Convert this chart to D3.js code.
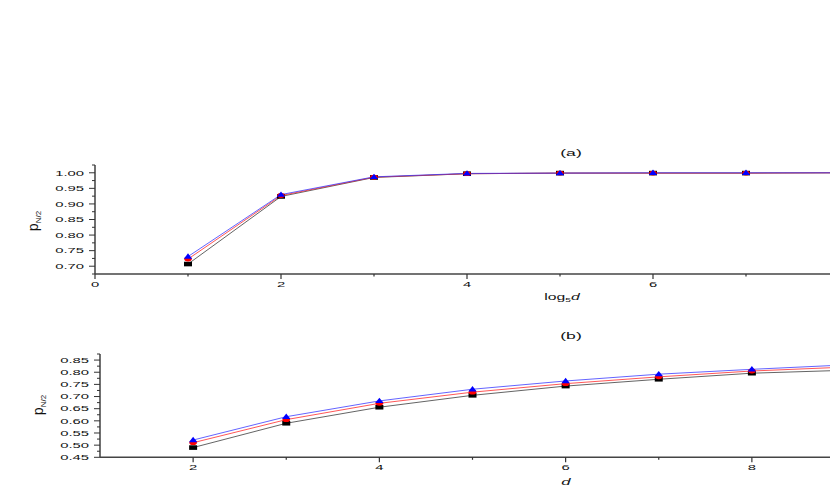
<!DOCTYPE html>
<html><head><meta charset="utf-8">
<script src="https://cdn.jsdelivr.net/npm/d3@7"></script>
<style>html,body{margin:0;padding:0;background:#fff;} svg{display:block;}</style>
</head><body>
<svg id="c" width="830" height="491"></svg>
<script>
// ---- data ----
const xA = [1, 2, 3, 4, 5, 6, 7, 8];            // log5 d
const aBlack = [0.707, 0.924, 0.985, 0.997, 0.999, 0.999, 0.999, 1.000];
const aRed   = [0.723, 0.927, 0.986, 0.997, 0.999, 0.999, 0.999, 1.000];
const aBlue  = [0.731, 0.930, 0.987, 0.998, 0.999, 1.000, 1.000, 1.000];

const xB = [2, 3, 4, 5, 6, 7, 8, 9];            // d
const bBlack = [0.490, 0.590, 0.656, 0.705, 0.743, 0.771, 0.796, 0.808];
const bRed   = [0.510, 0.605, 0.672, 0.718, 0.753, 0.781, 0.805, 0.821];
const bBlue  = [0.521, 0.617, 0.682, 0.730, 0.764, 0.792, 0.812, 0.830];

const aYTicks = [0.70, 0.75, 0.80, 0.85, 0.90, 0.95, 1.00];
const aXTicks = [0, 2, 4, 6];
const bYTicks = [0.45, 0.50, 0.55, 0.60, 0.65, 0.70, 0.75, 0.80, 0.85];
const bXTicks = [2, 4, 6, 8];

const svg = d3.select("#c");
const FONT = "'Liberation Sans', Arial, sans-serif";
const SX = 1.85; // horizontal stretch of text

function stext(g, x, y, str, anchor, size) {
  return g.append("text")
    .attr("transform", `translate(${x},${y}) scale(${SX},1)`)
    .attr("text-anchor", anchor)
    .attr("font-family", FONT)
    .attr("font-size", size)
    .attr("fill", "#111")
    .text(str);
}

function panel(cfg) {
  const g = svg.append("g");
  const x = d3.scaleLinear().domain(cfg.xDom).range(cfg.xRange);
  const y = d3.scaleLinear().domain(cfg.yDom).range(cfg.yRange);
  const x0 = cfg.xRange[0], yb = cfg.yRange[0], yt = cfg.yRange[1];

  // axes lines
  g.append("line").attr("x1", x0).attr("x2", x0).attr("y1", yt).attr("y2", yb)
    .attr("stroke", "#333").attr("stroke-width", 1.4);
  g.append("line").attr("x1", x0).attr("x2", 830).attr("y1", yb).attr("y2", yb)
    .attr("stroke", "#444").attr("stroke-width", 1.4);

  // y ticks major + minor
  cfg.yTicks.forEach(v => {
    g.append("line").attr("x1", x0 - 6).attr("x2", x0).attr("y1", y(v)).attr("y2", y(v))
      .attr("stroke", "#333").attr("stroke-width", 1);
    stext(g, x0 - 11, y(v) + 2.8, d3.format(".2f")(v), "end", 8);
  });
  const ymin = cfg.yTicks[0] - 0.025;
  for (let v = ymin; v <= cfg.yDom[1] + 1e-9; v += 0.05) {
    if (v < cfg.yDom[0] - 1e-9) continue;
    g.append("line").attr("x1", x0 - 3).attr("x2", x0).attr("y1", y(v)).attr("y2", y(v))
      .attr("stroke", "#333").attr("stroke-width", 1);
  }

  // x ticks
  cfg.xTicks.forEach(v => {
    g.append("line").attr("x1", x(v)).attr("x2", x(v)).attr("y1", yb).attr("y2", yb + 5)
      .attr("stroke", "#333").attr("stroke-width", 1.2);
    stext(g, x(v), yb + cfg.xLabOff, String(v), "middle", 8);
  });
  cfg.xMinor.forEach(v => {
    g.append("line").attr("x1", x(v)).attr("x2", x(v)).attr("y1", yb).attr("y2", yb + 2.5)
      .attr("stroke", "#333").attr("stroke-width", 1.2);
  });

  // series
  const line = d3.line().x((d, i) => x(cfg.xs[i])).y(d => y(d));
  const series = [
    {v: cfg.black, c: "#333", m: "square"},
    {v: cfg.red, c: "#f22", m: "circle"},
    {v: cfg.blue, c: "#33f", m: "triangle"}
  ];
  series.forEach(s => {
    g.append("path").datum(s.v).attr("d", line).attr("fill", "none")
      .attr("stroke", s.c).attr("stroke-width", 0.9).attr("opacity", 0.85);
  });
  series.forEach(s => {
    s.v.forEach((v, i) => {
      const px = x(cfg.xs[i]), py = y(v);
      if (px > 835) return;
      if (s.m === "square") {
        g.append("rect").attr("x", px - 4).attr("y", py - 2.3).attr("width", 8).attr("height", 4.6).attr("fill", "#000");
      } else if (s.m === "circle") {
        g.append("ellipse").attr("cx", px).attr("cy", py).attr("rx", 3.8).attr("ry", 2.4).attr("fill", "#f00");
      } else {
        g.append("path").attr("d", `M${px - 4.2},${py + 2.2}L${px + 4.2},${py + 2.2}L${px},${py - 3.2}Z`).attr("fill", "#00f");
      }
    });
  });

  // panel tag
  stext(g, cfg.tagX, cfg.tagY, cfg.tag, "middle", 9.5);

  // y title
  const yt2 = g.append("text")
    .attr("transform", `translate(${cfg.ytX},${cfg.ytY}) rotate(-90)`)
    .attr("text-anchor", "middle").attr("font-family", FONT).attr("fill", "#111");
  yt2.append("tspan").attr("font-size", 14).text("p");
  yt2.append("tspan").attr("font-size", 8).attr("dy", 3).text("N/2");
  return g;
}

const gA = panel({
  xDom: [0, 8], xRange: [95, 839], yDom: [0.675, 1.025], yRange: [274, 165],
  yTicks: aYTicks, xTicks: aXTicks, xMinor: [1, 3, 5, 7], xLabOff: 12.5,
  xs: xA, black: aBlack, red: aRed, blue: aBlue,
  tag: "(a)", tagX: 571, tagY: 155.5, ytX: 38, ytY: 221
});
// x title (a): log5 d
const tA = gA.append("text")
  .attr("transform", `translate(562,300) scale(${SX},1)`)
  .attr("text-anchor", "middle").attr("font-family", FONT).attr("font-size", 8.5).attr("fill", "#111");
tA.append("tspan").text("log");
tA.append("tspan").attr("font-size", 5.5).attr("dy", 1.8).text("5");
tA.append("tspan").attr("dy", -1.8).attr("font-style", "italic").text("d");

const gB = panel({
  xDom: [1, 9], xRange: [100, 845], yDom: [0.45, 0.875], yRange: [457.3, 354],
  yTicks: bYTicks, xTicks: bXTicks, xMinor: [3, 5, 7], xLabOff: 12.5,
  xs: xB, black: bBlack, red: bRed, blue: bBlue,
  tag: "(b)", tagX: 571, tagY: 338.5, ytX: 43, ytY: 405
});
gB.append("text")
  .attr("transform", `translate(566,484.5) scale(${SX},1)`)
  .attr("text-anchor", "middle").attr("font-family", FONT).attr("font-size", 9)
  .attr("font-style", "italic").attr("fill", "#111").text("d");
</script>
</body></html>
